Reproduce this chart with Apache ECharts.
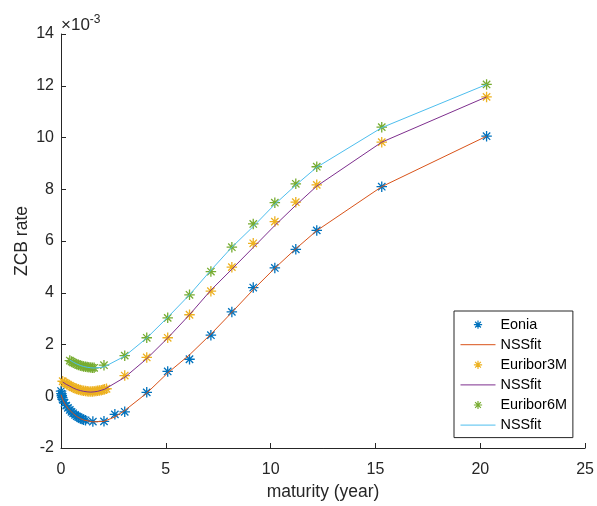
<!DOCTYPE html>
<html>
<head>
<meta charset="utf-8">
<script src="https://cdn.jsdelivr.net/npm/echarts@6/dist/echarts.min.js"></script>
<style>
  html, body { margin: 0; padding: 0; background: #fff; }
  #chart { width: 597px; height: 506px; }
</style>
</head>
<body>
<div id="chart"></div>
<script>
// Zero-coupon bond rates (in units of 1e-3) against maturity in years,
// with the Nelson-Siegel-Svensson fit for each curve.

const eoniaMaturity = [0.003, 0.02, 0.04, 0.06, 0.08, 0.17, 0.25, 0.33, 0.42, 0.5, 0.58, 0.67, 0.75, 0.83, 0.92, 1.0, 1.08, 1.17,
  1.52, 2.05, 2.57, 3.04, 4.09, 5.09, 6.13, 7.15, 8.15, 9.17, 10.2, 11.2, 12.2, 15.3, 20.3];
const eoniaRate = [0.2, 0.1, 0.02, -0.05, -0.12, -0.26, -0.36, -0.45, -0.53, -0.6, -0.66, -0.72, -0.77, -0.81, -0.85, -0.88, -0.91, -0.93,
  -0.98, -0.97, -0.7, -0.6, 0.15, 0.96, 1.43, 2.36, 3.26, 4.2, 4.96, 5.68, 6.41, 8.1, 10.05];
const eoniaFit = [0.06, 0.02, -0.03, -0.08, -0.13, -0.27, -0.37, -0.46, -0.54, -0.61, -0.67, -0.73, -0.78, -0.82, -0.86, -0.89, -0.92, -0.94,
  -0.99, -0.97, -0.8, -0.55, 0.12, 0.9, 1.6, 2.4, 3.24, 4.12, 4.95, 5.7, 6.4, 8.1, 10.05];

const eur3mMaturity = [0.08, 0.17, 0.25, 0.33, 0.42, 0.5, 0.58, 0.67, 0.75, 0.83, 0.92, 1.0, 1.08, 1.17, 1.25, 1.33, 1.42, 1.5, 1.58,
  1.67, 1.75, 1.83, 1.92, 2.0, 2.08, 2.17, 3.04, 4.09, 5.09, 6.13, 7.15, 8.15, 9.17, 10.2, 11.2, 12.2, 15.3, 20.3];
const eur3mRate = [0.58, 0.53, 0.49, 0.45, 0.41, 0.37, 0.34, 0.31, 0.28, 0.26, 0.24, 0.22, 0.21, 0.2, 0.19, 0.18, 0.18, 0.18, 0.19,
  0.2, 0.21, 0.22, 0.23, 0.25, 0.27, 0.29, 0.8, 1.5, 2.26, 3.15, 4.06, 4.99, 5.91, 6.75, 7.5, 8.17, 9.82, 11.57];
const eur3mFit = [0.55, 0.5, 0.46, 0.42, 0.39, 0.35, 0.32, 0.29, 0.26, 0.24, 0.22, 0.2, 0.19, 0.18, 0.17, 0.16, 0.16, 0.16, 0.17,
  0.18, 0.19, 0.21, 0.23, 0.25, 0.27, 0.3, 0.73, 1.45, 2.25, 3.15, 4.1, 4.91, 5.75, 6.6, 7.38, 8.12, 9.82, 11.57];

const eur6mMaturity = [0.42, 0.5, 0.58, 0.67, 0.75, 0.83, 0.92, 1.0, 1.08, 1.17, 1.25, 1.33, 1.42, 1.5, 1.58,
  2.05, 3.04, 4.09, 5.09, 6.13, 7.15, 8.15, 9.17, 10.2, 11.2, 12.2, 15.3, 20.3];
const eur6mRate = [1.38, 1.34, 1.3, 1.27, 1.24, 1.21, 1.19, 1.17, 1.15, 1.14, 1.13, 1.12, 1.11, 1.1, 1.1,
  1.2, 1.57, 2.26, 3.03, 3.92, 4.82, 5.76, 6.66, 7.48, 8.21, 8.87, 10.4, 12.05];
const eur6mFit = [1.4, 1.36, 1.32, 1.28, 1.25, 1.22, 1.19, 1.17, 1.15, 1.14, 1.12, 1.11, 1.1, 1.1, 1.09,
  1.13, 1.55, 2.25, 3.05, 3.92, 4.87, 5.76, 6.56, 7.42, 8.16, 8.85, 10.38, 12.05];

const xTicks = { min: 0, max: 25, step: 5 };
const yTicks = { min: -2, max: 14, step: 2 };

const pairs = (xs, ys) => xs.map((x, i) => [x, ys[i]]);

const AXIS = '#262626';
const FONT = '"Liberation Sans", Arial, Helvetica, sans-serif';
const STAR = 'path://M0,-5L0,5M-5,0L5,0M-3.5,-3.5L3.5,3.5M-3.5,3.5L3.5,-3.5';
// same asterisk with a wider empty frame so the legend icon stays small
const STAR_ICON = 'path://M-8.5,-8.5M8.5,8.5M0,-5L0,5M-5,0L5,0M-3.5,-3.5L3.5,3.5M-3.5,3.5L3.5,-3.5';
// plain horizontal stroke across the whole legend icon box (35 x 14)
const LINE_ICON = 'path://M0,0M35,14M0,7L35,7';

const C_EONIA = '#0072BD', C_E3M = '#EDB120', C_E6M = '#77AC30';
const C_FIT1 = '#D95319', C_FIT2 = '#7E2F8E', C_FIT3 = '#4DBEEE';

function markers(name, xs, ys, color) {
  return {
    name, type: 'scatter', data: pairs(xs, ys),
    symbol: STAR, symbolSize: 10.5,
    itemStyle: { color, borderColor: color, borderWidth: 1.3, opacity: 1 },
    emphasis: { disabled: true }, animation: false
  };
}
function fitLine(name, xs, ys, color) {
  return {
    name, type: 'line', data: pairs(xs, ys),
    symbol: 'none', smooth: false,
    lineStyle: { color, width: 1 },
    itemStyle: { color },
    emphasis: { disabled: true }, animation: false
  };
}
const starEntry = (name, c) => ({ name, icon: STAR_ICON, itemStyle: { color: c, borderColor: c, borderWidth: 1.2 } });
const lineEntry = (name, c) => ({ name, icon: LINE_ICON, itemStyle: { color: c, borderColor: c, borderWidth: 1 } });

const chart = echarts.init(document.getElementById('chart'), null, { renderer: 'canvas' });

chart.setOption({
  backgroundColor: '#ffffff',
  animation: false,
  textStyle: { fontFamily: FONT },
  grid: { left: 61, right: 9, top: 34, bottom: 55, containLabel: false },
  xAxis: {
    type: 'value', min: xTicks.min, max: xTicks.max, interval: xTicks.step,
    name: 'maturity (year)', nameLocation: 'middle', nameGap: 35, nameMoveOverlap: false,
    nameTextStyle: { color: AXIS, fontSize: 17.5, fontFamily: FONT },
    axisLine: { show: true, onZero: false, lineStyle: { color: AXIS, width: 1 } },
    axisTick: { show: true, inside: true, length: 5, lineStyle: { color: AXIS } },
    axisLabel: { color: AXIS, fontSize: 16, fontFamily: FONT, margin: 14 },
    splitLine: { show: false }
  },
  yAxis: {
    type: 'value', min: yTicks.min, max: yTicks.max, interval: yTicks.step,
    name: 'ZCB rate', nameLocation: 'middle', nameGap: 30, nameMoveOverlap: false,
    nameTextStyle: { color: AXIS, fontSize: 17.5, fontFamily: FONT },
    axisLine: { show: true, onZero: false, lineStyle: { color: AXIS, width: 1 } },
    axisTick: { show: true, inside: true, length: 5, lineStyle: { color: AXIS } },
    axisLabel: { color: AXIS, fontSize: 16, fontFamily: FONT, margin: 7 },
    splitLine: { show: false }
  },
  legend: {
    orient: 'vertical', left: 454, top: 311,
    padding: [6, 6, 5, 6], itemGap: 5, itemWidth: 35, itemHeight: 14,
    backgroundColor: '#ffffff', borderColor: AXIS, borderWidth: 1,
    textStyle: { color: '#000', fontSize: 14.4, lineHeight: 14, fontFamily: FONT },
    formatter: n => n.trim(),
    selectedMode: false,
    data: [
      starEntry('Eonia', C_EONIA),
      lineEntry('NSSfit', C_FIT1),
      starEntry('Euribor3M', C_E3M),
      lineEntry('NSSfit ', C_FIT2),
      starEntry('Euribor6M', C_E6M),
      lineEntry('NSSfit  ', C_FIT3)
    ]
  },
  graphic: [{
    type: 'text', left: 61, top: 14, silent: true,
    style: {
      text: '{a|\u00d710}{b|-3}',
      rich: {
        a: { fontSize: 17, fontFamily: FONT, fill: AXIS, verticalAlign: 'bottom', lineHeight: 20 },
        b: { fontSize: 12, fontFamily: FONT, fill: AXIS, verticalAlign: 'top', lineHeight: 20, padding: [0, 0, 7, 0] }
      }
    }
  }],
  series: [
    markers('Eonia', eoniaMaturity, eoniaRate, C_EONIA),
    fitLine('NSSfit', eoniaMaturity, eoniaFit, C_FIT1),
    markers('Euribor3M', eur3mMaturity, eur3mRate, C_E3M),
    fitLine('NSSfit ', eur3mMaturity, eur3mFit, C_FIT2),
    markers('Euribor6M', eur6mMaturity, eur6mRate, C_E6M),
    fitLine('NSSfit  ', eur6mMaturity, eur6mFit, C_FIT3)
  ]
});
</script>
</body>
</html>
